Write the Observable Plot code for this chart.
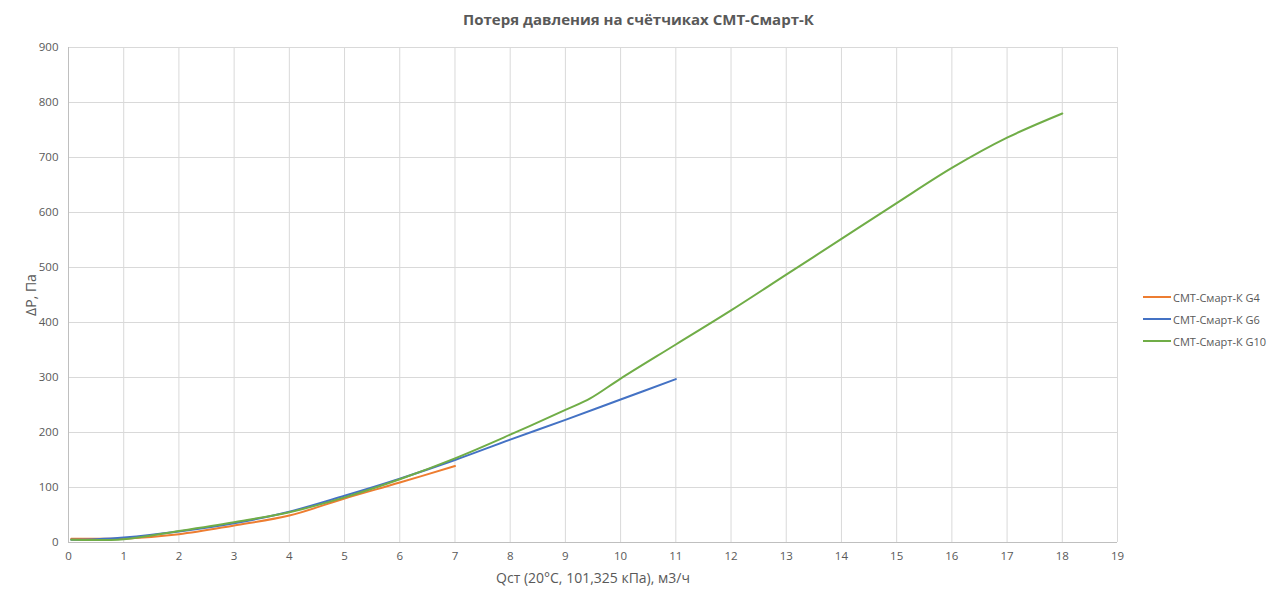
<!DOCTYPE html>
<html><head><meta charset="utf-8">
<script src="https://cdn.jsdelivr.net/npm/d3@7"></script>
<script src="https://cdn.jsdelivr.net/npm/@observablehq/plot@0.6"></script>
<style>
body{margin:0;background:#fff;font-family:"Open Sans",sans-serif;}
#wrap{position:relative;width:1277px;height:602px;}
#title{position:absolute;left:0;width:1277px;top:9px;text-align:center;font-size:15px;font-weight:bold;color:#595959;}
#legend{position:absolute;left:1143px;top:286px;font-size:11px;color:#595959;}
.li{display:flex;align-items:center;height:22px;}
.sw{width:28px;height:2px;margin-right:2px;}
</style></head><body>
<div id="wrap"><div id="title">Потеря давления на счётчиках СМТ-Смарт-К</div><div id="legend"></div></div>
<script>
const seriesNames = ["СМТ-Смарт-К G4", "СМТ-Смарт-К G6", "СМТ-Смарт-К G10"];
const seriesColors = ["#ED7D31", "#4472C4", "#70AD47"];
const g4Q  = [0.05, 0.5, 1, 2, 3, 4, 5, 6, 7];
const g4P  = [7, 7, 7, 15, 31, 49, 80, 109, 139];
const g6Q  = [0.05, 0.5, 1, 2, 3, 4, 5, 6, 7, 8, 9, 10, 11];
const g6P  = [5, 6, 9, 20, 35, 56, 85, 116, 150, 187, 223, 260, 297];
const g10Q = [0.05, 1, 2, 3, 4, 5, 6, 7, 8, 9, 9.45, 10, 11, 12, 13, 14, 15, 16, 17, 18];
const g10P = [5, 6, 21, 37, 55, 82, 115, 153, 196, 241, 262, 298, 360, 422, 487, 552, 617, 681, 736, 780];
const xTicks = d3.range(0, 20);
const yTicks = d3.range(0, 1000, 100);

const data = [];
[[g4Q, g4P], [g6Q, g6P], [g10Q, g10P]].forEach(([q, p], i) =>
  q.forEach((v, j) => data.push({series: seriesNames[i], q: v, p: p[j]})));

const chart = Plot.plot({
  width: 1277, height: 602,
  marginLeft: 68, marginRight: 160, marginTop: 47, marginBottom: 60,
  style: {fontFamily: "Open Sans, sans-serif", fontSize: "11.5px", color: "#595959", background: "white"},
  x: {domain: [0, 19], ticks: xTicks, tickSize: 0, tickPadding: 9, label: "Qст (20°C, 101,325 кПа), м3/ч", labelAnchor: "center", labelOffset: 40, labelArrow: "none"},
  y: {domain: [0, 900], ticks: yTicks, tickSize: 0, tickPadding: 10, label: "ΔP, Па", labelAnchor: "center", labelOffset: 42, labelArrow: "none"},
  color: {domain: seriesNames, range: seriesColors},
  marks: [
    Plot.gridX(xTicks, {stroke: "#d9d9d9", strokeOpacity: 1}),
    Plot.gridY(yTicks, {stroke: "#d9d9d9", strokeOpacity: 1}),
    Plot.ruleY([0], {stroke: "#bfbfbf"}),
    Plot.ruleX([0], {stroke: "#bfbfbf"}),
    Plot.line(data, {x: "q", y: "p", z: "series", stroke: "series", strokeWidth: 2, curve: "catmull-rom"})
  ]
});
chart.style.position = "absolute"; chart.style.left = "0"; chart.style.top = "0";
d3.select(chart).selectAll("[aria-label='x-axis label'] text, [aria-label='y-axis label'] text")
  .style("font-size", "14px")
  .each(function() { this.textContent = this.textContent.replace(/\s*[→↑←↓]\s*/g, ""); });
const wrap = document.getElementById("wrap");
wrap.insertBefore(chart, wrap.firstChild);
const leg = d3.select("#legend");
seriesNames.forEach((n, i) => {
  const r = leg.append("div").attr("class", "li");
  r.append("div").attr("class", "sw").style("background", seriesColors[i]);
  r.append("span").text(n);
});
</script></body></html>
